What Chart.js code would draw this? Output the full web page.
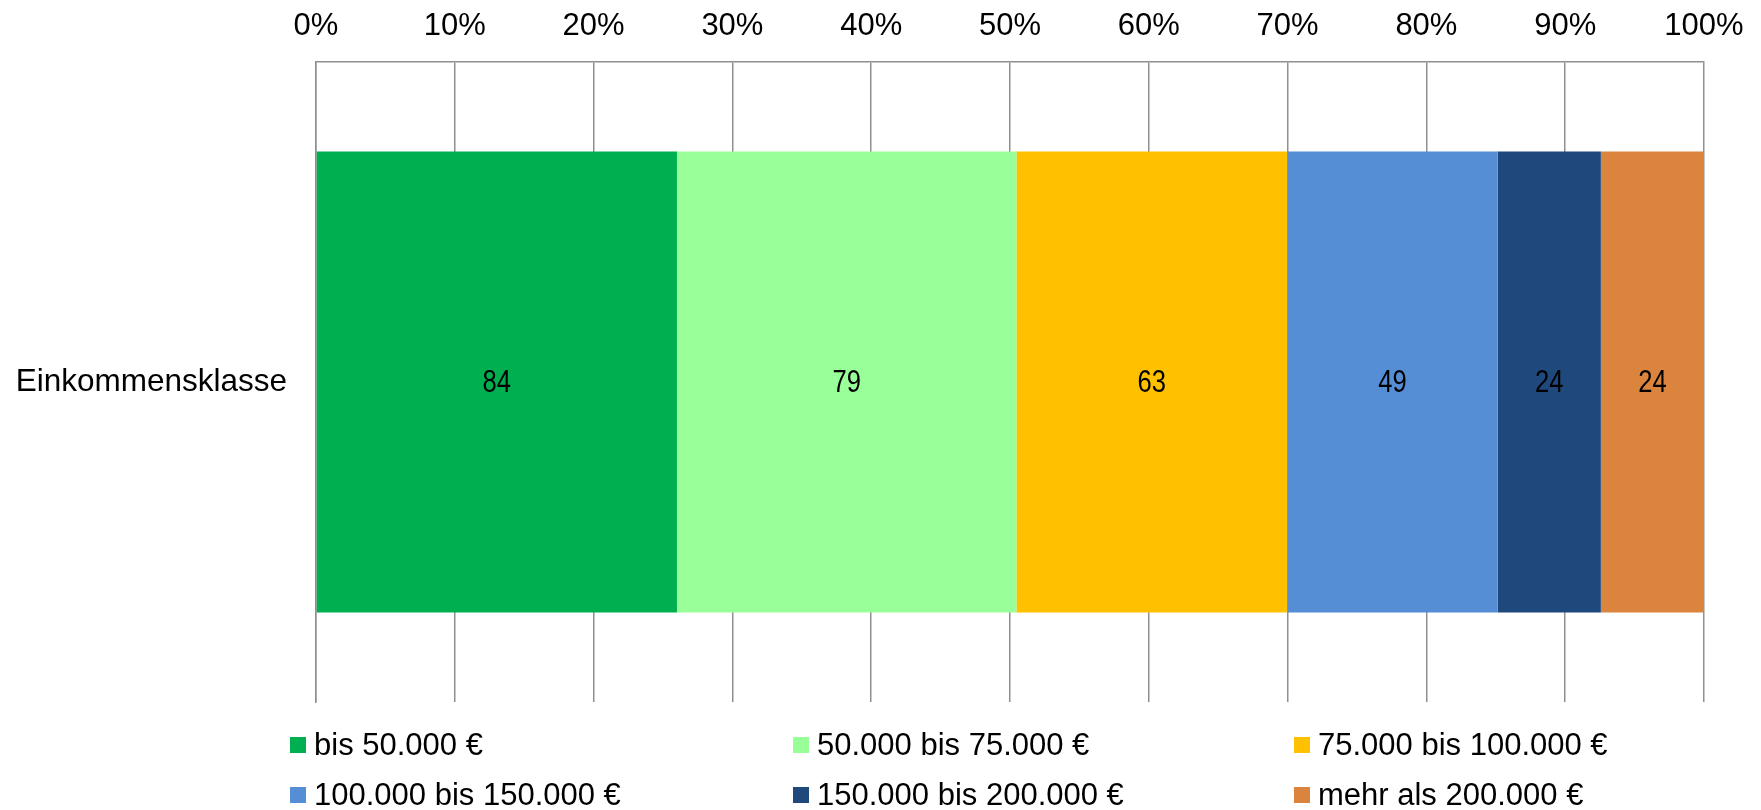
<!DOCTYPE html>
<html lang="de">
<head>
<meta charset="utf-8">
<title>Einkommensklasse</title>
<script src="https://cdn.jsdelivr.net/npm/chart.js@4/dist/chart.umd.min.js"></script>
<style>
  html, body { margin: 0; padding: 0; background: #fff; }
  #wrap { width: 1761px; height: 810px; }
</style>
</head>
<body>
<div id="wrap"><canvas id="grafico"></canvas></div>
<script>
const kategorien = ['Einkommensklasse'];
const klassen = [
  'bis 50.000 €',
  '50.000 bis 75.000 €',
  '75.000 bis 100.000 €',
  '100.000 bis 150.000 €',
  '150.000 bis 200.000 €',
  'mehr als 200.000 €'
];
const anzahl = [84, 79, 63, 49, 24, 24];
const farben = ['#00B050', '#99FF99', '#FFC000', '#558ED5', '#1F497D', '#DB843D'];
const xTicks = [0, 10, 20, 30, 40, 50, 60, 70, 80, 90, 100];

const FONT = '"Liberation Sans", Arial, sans-serif';
const GRID = '#8f8f8f';

window.onload = function () {
  const ctx = document.getElementById('grafico').getContext('2d');
  const summe = anzahl.reduce((a, b) => a + b, 0);

  Chart.defaults.font.family = FONT;
  Chart.defaults.font.size = 31;
  Chart.defaults.color = '#000';

  // Werte in den Segmenten (schmal gezogen wie im Original)
  const wertLabels = {
    id: 'wertLabels',
    afterDatasetsDraw(chart) {
      const c = chart.ctx;
      chart.data.datasets.forEach((ds, i) => {
        chart.getDatasetMeta(i).data.forEach(bar => {
          const p = bar.getCenterPoint();
          c.save();
          c.translate(p.x, p.y + 1);
          c.scale(0.8, 1);
          c.font = '32px ' + FONT;
          c.fillStyle = '#000';
          c.textAlign = 'center';
          c.textBaseline = 'middle';
          c.fillText(String(ds.roh), 0, 0);
          c.restore();
        });
      });
    }
  };

  // Legende in drei Spalten unter dem Diagramm
  const spaltenLegende = {
    id: 'spaltenLegende',
    afterDraw(chart) {
      const c = chart.ctx;
      const spalten = [290, 793, 1294];
      const zeilen = [745, 795];
      c.save();
      c.font = '31px ' + FONT;
      c.textBaseline = 'middle';
      c.textAlign = 'left';
      chart.data.datasets.forEach((ds, i) => {
        const x = spalten[i % 3];
        const y = zeilen[Math.floor(i / 3)];
        c.fillStyle = ds.backgroundColor;
        c.fillRect(x, y - 8, 16, 16);
        c.fillStyle = '#000';
        c.fillText(ds.label, x + 24, y + 1);
      });
      c.restore();
    }
  };

  const datasets = klassen.map((name, i) => ({
    label: name,
    data: [anzahl[i] / summe * 100],
    roh: anzahl[i],
    backgroundColor: farben[i],
    borderWidth: 0,
    barPercentage: 0.72,
    categoryPercentage: 1
  }));

  new Chart(ctx, {
    type: 'bar',
    data: { labels: kategorien, datasets: datasets },
    plugins: [wertLabels, spaltenLegende],
    options: {
      indexAxis: 'y',
      responsive: true,
      maintainAspectRatio: false,
      animation: false,
      layout: { padding: { top: 0, right: 57, bottom: 108, left: 0 } },
      plugins: {
        legend: { display: false },
        tooltip: { enabled: false }
      },
      scales: {
        x: {
          position: 'top',
          stacked: true,
          min: 0,
          max: 100,
          afterBuildTicks: scale => { scale.ticks = xTicks.map(v => ({ value: v })); },
          afterFit: scale => { scale.height = 62; },
          ticks: {
            padding: 17,
            callback: v => v + '%'
          },
          grid: { color: GRID, lineWidth: 1.5, drawTicks: false },
          border: { display: true, color: GRID, width: 1.5 }
        },
        y: {
          stacked: true,
          afterFit: scale => { scale.width = 316; },
          ticks: { padding: 29, font: { size: 31.5 } },
          grid: { display: false, drawTicks: false },
          border: { display: true, color: GRID, width: 1.5 }
        }
      }
    }
  });
};
</script>
</body>
</html>
